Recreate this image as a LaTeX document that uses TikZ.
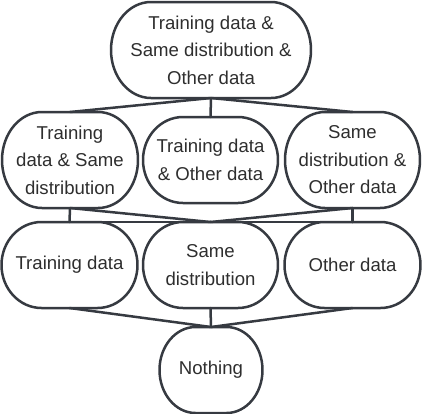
\documentclass[tikz,border=0pt]{standalone}
\usepackage{fontspec}
\setmainfont{Liberation Sans}
\definecolor{linec}{HTML}{363A41}
\definecolor{txtc}{HTML}{2E2E2E}
\tikzset{
  txt/.style={inner sep=0pt, outer sep=0pt, align=center, text=txtc,
    font=\fontsize{18.6bp}{27.5bp}\selectfont},
  bord/.style={draw=linec, line width=2.5bp, line join=round},
  edge/.style={draw=linec, line width=2.5bp, line cap=round}
}
% name, cx, cy, w, h, rx, text
\newcommand\stad[7]{%
  \node[txt, minimum width=#4bp, minimum height=#5bp] (#1) at (#2,#3) {#7};
  \draw[bord] ({#2-#4/2+#6},{#3-#5/2}) -- ({#2+#4/2-#6},{#3-#5/2})
    arc[start angle=90, end angle=-90, x radius=#6bp, y radius=#5bp/2]
    -- ({#2-#4/2+#6},{#3+#5/2})
    arc[start angle=270, end angle=90, x radius=#6bp, y radius=#5bp/2] -- cycle;}
\begin{document}
\begin{tikzpicture}[x=1bp, y=-1bp]
\useasboundingbox (0,0) rectangle (422,414);
\stad{T}{211}{50}{200}{96}{40}{Training data \&\\Same distribution \&\\Other data}
\stad{L2}{70}{160}{136}{96}{40}{Training\\data \& Same\\distribution}
\stad{M2}{210.5}{160}{135}{86}{40}{Training data\\\& Other data}
\stad{R2}{352.5}{160}{135}{96}{40}{Same\\distribution \&\\Other data}
\stad{L3}{69.5}{265}{136}{86}{40}{Training data}
\stad{M3}{210.5}{265}{135}{86}{40}{Same\\distribution}
\stad{R3}{352.5}{265}{136}{86}{40}{Other data}
\stad{N}{211}{370}{103}{86}{36}{Nothing}
% top to row 2
\draw[edge] (T.south) -- (L2.north);
\draw[edge] (T.south) -- (M2.north);
\draw[edge] (T.south) -- (R2.north);
% row 2 to row 3
\draw[edge] (L2.south) -- (L3.north);
\draw[edge] (L2.south) -- (M3.north);
\draw[edge] (R2.south) -- (M3.north);
\draw[edge] (R2.south) -- (R3.north);
\draw[edge] (L3.north) -- (R3.north);
% row 3 to bottom
\draw[edge] (L3.south) -- (N.north);
\draw[edge] (M3.south) -- (N.north);
\draw[edge] (R3.south) -- (N.north);
\end{tikzpicture}
\end{document}
